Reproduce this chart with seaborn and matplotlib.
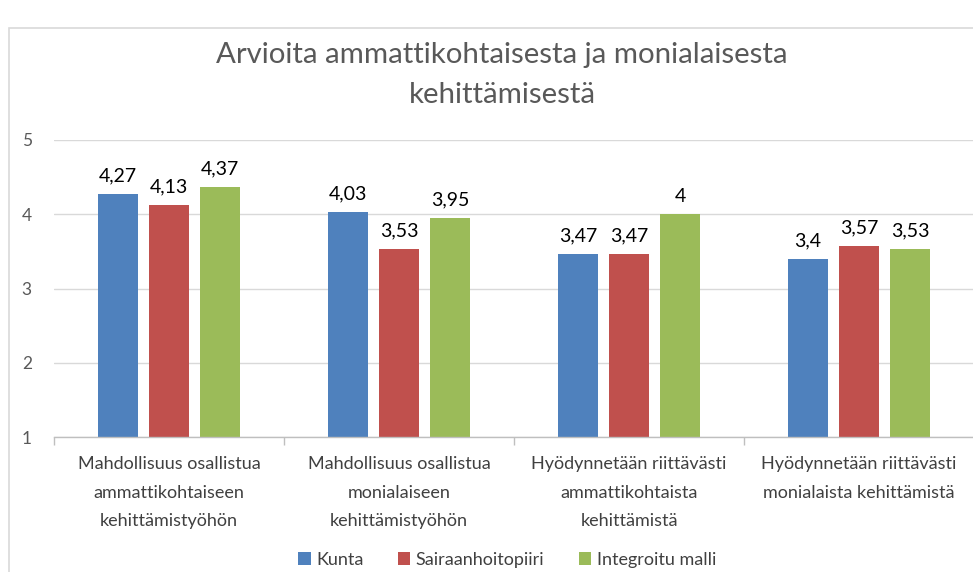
import matplotlib
matplotlib.use("Agg")
import matplotlib.pyplot as plt
import seaborn as sns
import pandas as pd
from matplotlib.patches import Rectangle

categories = [
    "Mahdollisuus osallistua\nammattikohtaiseen\nkehittämistyöhön",
    "Mahdollisuus osallistua\nmonialaiseen\nkehittämistyöhön",
    "Hyödynnetään riittävästi\nammattikohtaista\nkehittämistä",
    "Hyödynnetään riittävästi\nmonialaista kehittämistä",
]
series_names = ["Kunta", "Sairaanhoitopiiri", "Integroitu malli"]
kunta = [4.27, 4.03, 3.47, 3.40]
sairaanhoitopiiri = [4.13, 3.53, 3.47, 3.57]
integroitu = [4.37, 3.95, 4.00, 3.53]
colors = ["#4F81BD", "#C0504D", "#9BBB59"]
title = "Arvioita ammattikohtaisesta ja monialaisesta\nkehittämisestä"

rows = []
for name, vals in zip(series_names, [kunta, sairaanhoitopiiri, integroitu]):
    for c, v in zip(categories, vals):
        rows.append({"kategoria": c, "sarja": name, "arvo": v})
df = pd.DataFrame(rows)

sns.set_theme(style="white")
FAM = ["Lato", "DejaVu Sans"]
plt.rcParams["font.family"] = FAM

W, H = 973, 572
fig = plt.figure(figsize=(W / 100, H / 100), dpi=100)
ax = fig.add_axes([54 / W, 1 - 437 / H, (974 - 54) / W, (437 - 140) / H])

sns.barplot(data=df, x="kategoria", y="arvo", hue="sarja", palette=colors,
            width=0.665, gap=0.2, ax=ax, saturation=1, errorbar=None, linewidth=0)

ax.set_ylim(1, 5)
ax.set_xlim(-0.5, 3.5)
ax.set_yticks([1, 2, 3, 4, 5])
ax.grid(axis="y", color="#D9D9D9", linewidth=1)
ax.set_axisbelow(True)
for s in ["top", "right", "left"]:
    ax.spines[s].set_visible(False)
ax.spines["bottom"].set_color("#BFBFBF")
ax.spines["bottom"].set_linewidth(1)
ax.tick_params(axis="y", length=0, pad=16, labelsize=12.5, labelcolor="#595959")
ax.tick_params(axis="x", length=0, pad=14, labelsize=13, labelcolor="#404040")
ax.set_xticks([-0.5, 0.5, 1.5, 2.5, 3.5], minor=True)
ax.tick_params(axis="x", which="minor", bottom=True, length=6, color="#BFBFBF", width=1)
ax.set_xlabel("")
ax.set_ylabel("")
for lab in ax.get_xticklabels():
    lab.set_linespacing(1.95)

for cont in ax.containers:
    labels = [("%g" % b.get_height()).replace(".", ",") for b in cont]
    ax.bar_label(cont, labels=labels, padding=7, fontsize=14, color="#000000", family=FAM)

leg = ax.legend(loc="center", bbox_to_anchor=(0.5 - 7 / 920, (437 - 560) / (437 - 140)),
                ncol=3, frameon=False, fontsize=13, handlelength=0.7, handleheight=0.7,
                handletextpad=0.3, columnspacing=1.9)
for t in leg.get_texts():
    t.set_color("#404040")

fig.text(502 / W, 1 - 75 / H, title, ha="center", va="center", fontsize=21.2,
         color="#595959", linespacing=1.65, family=FAM)

fig.patches.append(Rectangle((9 / W, -0.1), 1.2, 1 - 28 / H + 0.1, transform=fig.transFigure,
                             fill=False, edgecolor="#D9D9D9", linewidth=1.2))

fig.savefig("out.png", dpi=100)
